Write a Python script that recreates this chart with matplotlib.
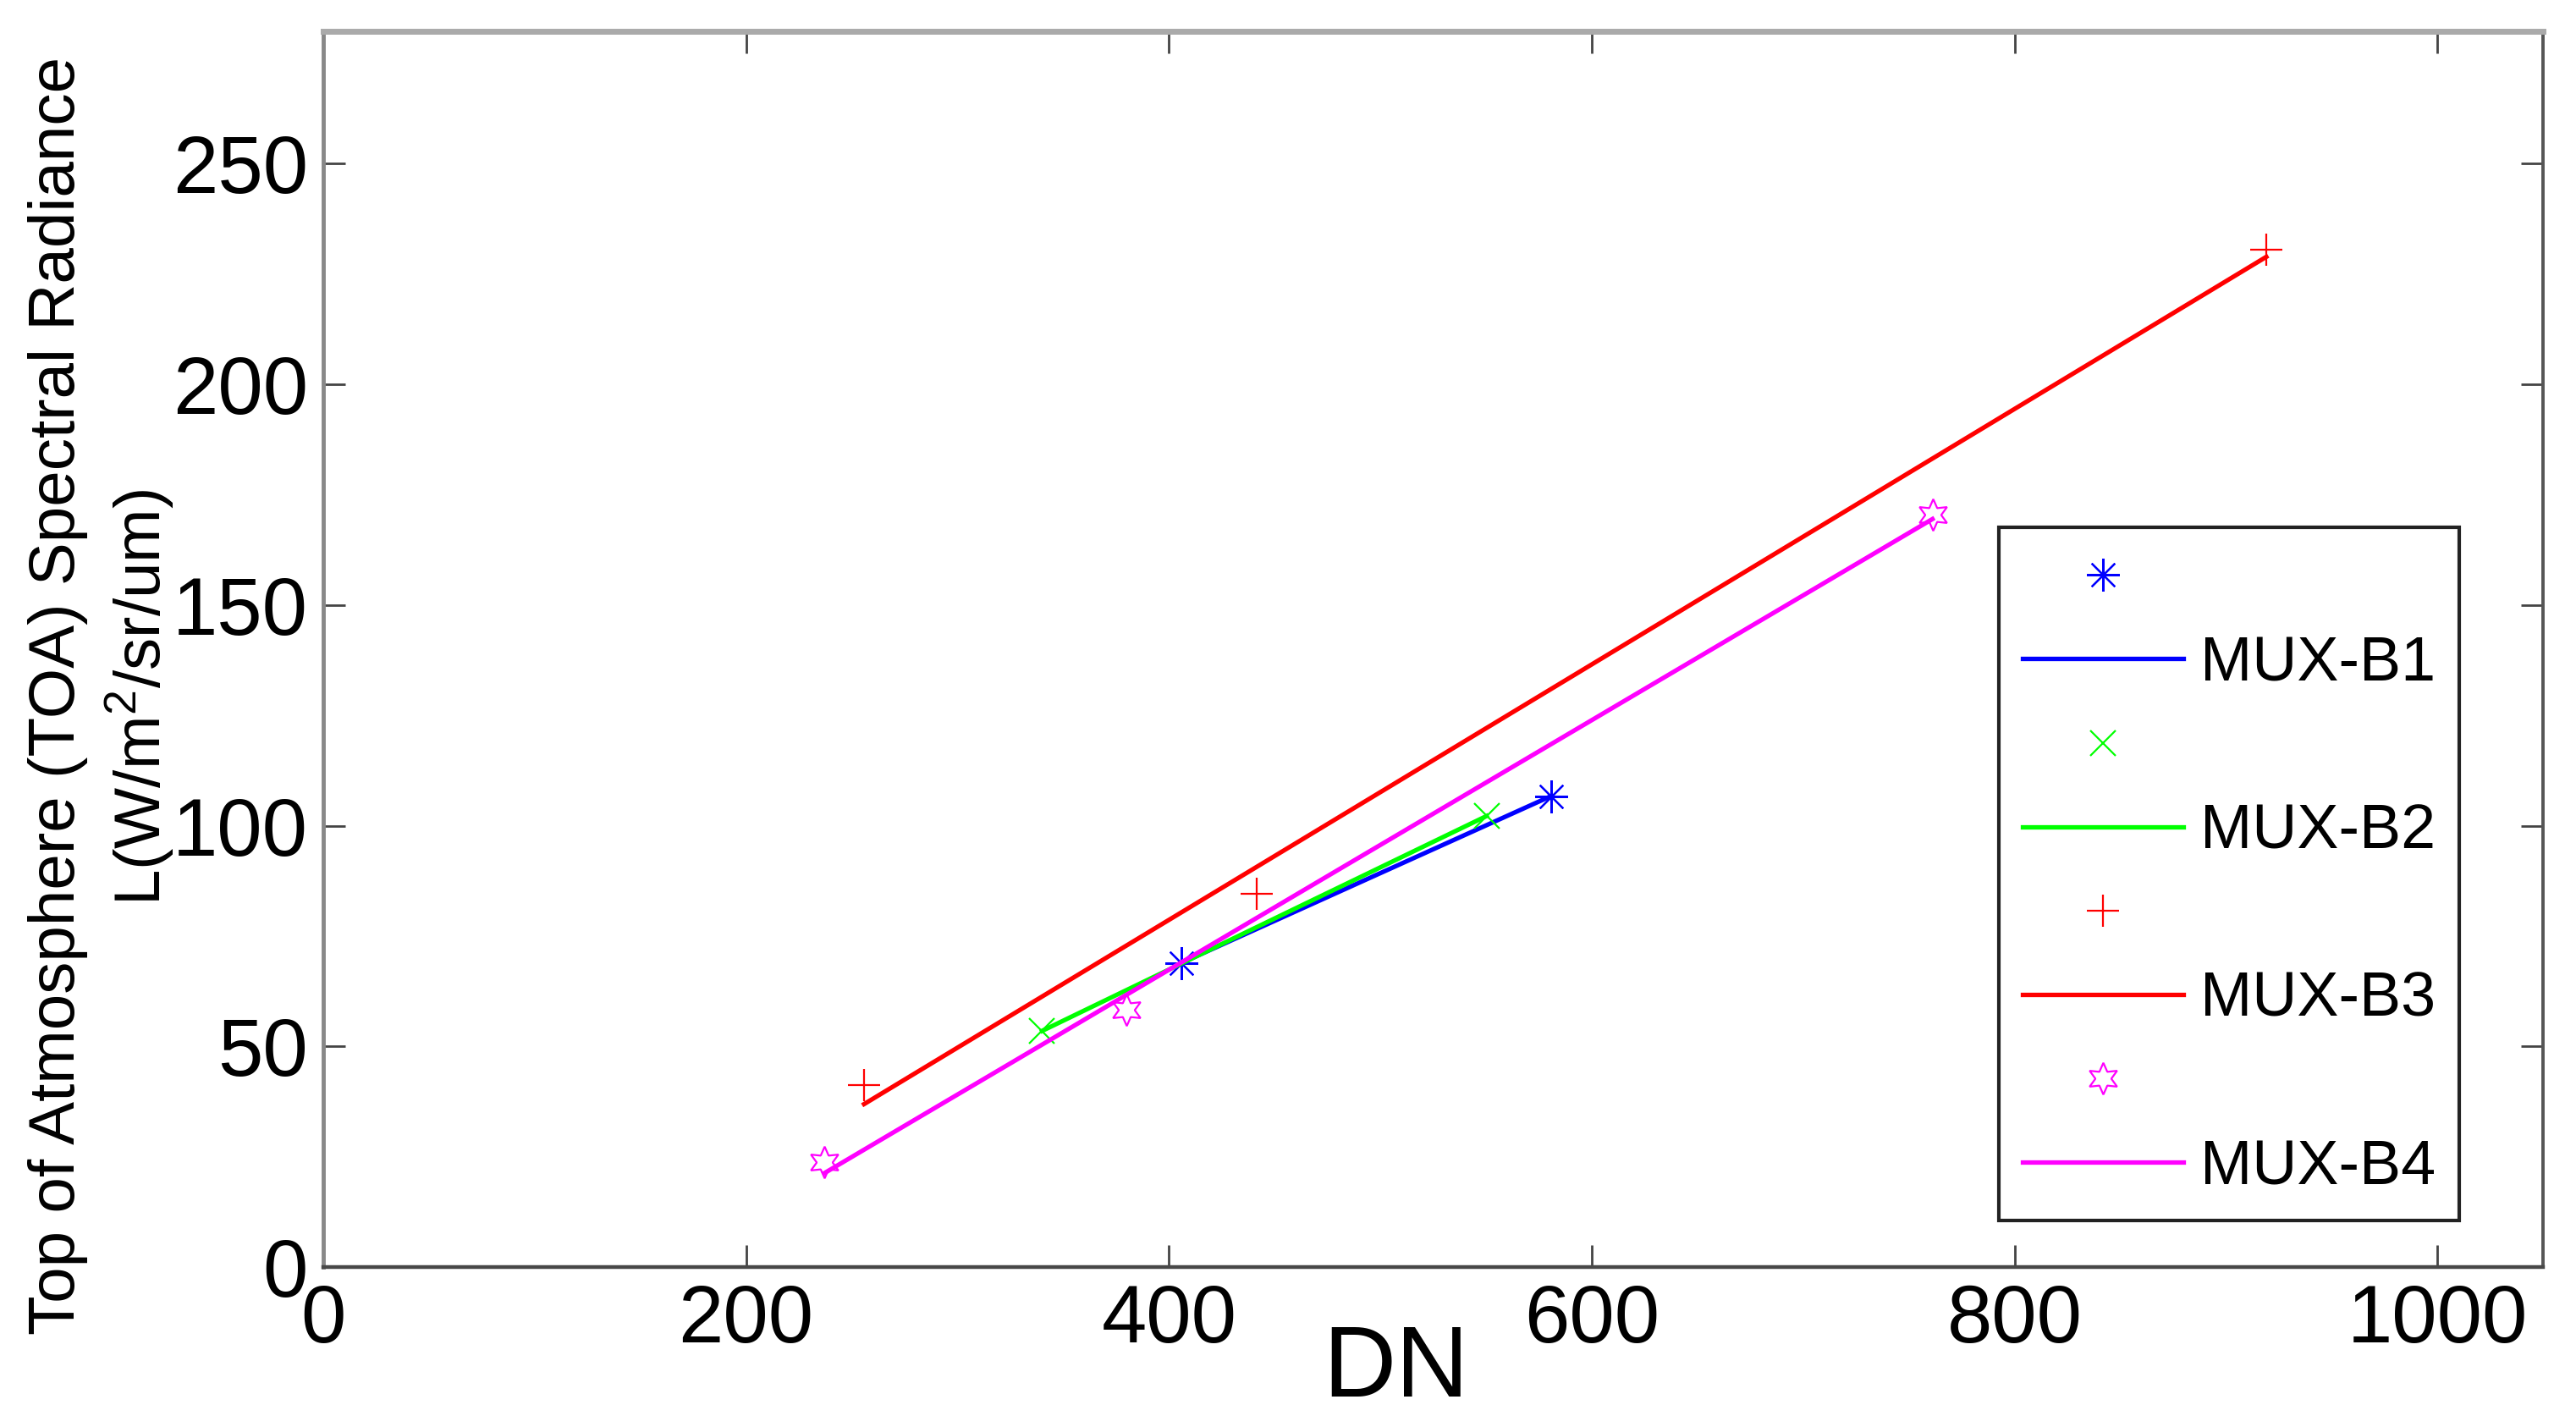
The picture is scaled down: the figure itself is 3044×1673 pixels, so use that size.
import numpy as np
import matplotlib
matplotlib.use("Agg")
import matplotlib.pyplot as plt
from matplotlib.lines import Line2D

plt.rcParams['font.family'] = ['Liberation Sans', 'DejaVu Sans']
plt.rcParams['mathtext.fontset'] = 'custom'
plt.rcParams['mathtext.rm'] = 'Liberation Sans'
plt.rcParams['mathtext.it'] = 'Liberation Sans:italic'

# DN vs TOA radiance
b1_dn = [405.9, 580.7]
b1_rad = [68.9, 106.7]
b2_dn = [340.0, 550.3]
b2_rad = [53.5, 102.2]
b3_dn = [255.8, 441.6, 919.1]
b3_rad = [41.3, 84.6, 230.6]
b4_dn = [237.0, 379.8, 761.2]
b4_rad = [23.7, 58.3, 170.4]

band_names = ['MUX-B1', 'MUX-B2', 'MUX-B3', 'MUX-B4']
x_ticks = [0, 200, 400, 600, 800, 1000]
y_ticks = [0, 50, 100, 150, 200, 250]

series = [
    (b1_dn, b1_rad, (0, 0, 1), (8, 2, 0), 28),
    (b2_dn, b2_rad, (0, 1, 0), 'x', 21),
    (b3_dn, b3_rad, (1, 0, 0), '+', 28),
    (b4_dn, b4_rad, (1, 0, 1), (6, 1, 0), 27),
]

fig = plt.figure(figsize=(30.44, 16.73), dpi=100)
ax = fig.add_axes([0.1255, 0.1052, 0.9872 - 0.1255, 0.9779 - 0.1052])

handles = []
labels = []
for (dn, rad, col, mk, ms), name in zip(series, band_names):
    dn = np.array(dn)
    rad = np.array(rad)
    # least squares calibration line over the range of the points
    k, b = np.polyfit(dn, rad, 1)
    xs = np.array([dn.min(), dn.max()])
    ax.plot(xs, k * xs + b, color=col, lw=3.8)
    ax.plot(dn, rad, linestyle='none', marker=mk, markersize=ms,
            markeredgecolor=col, markerfacecolor='none', markeredgewidth=1.6)
    handles.append(Line2D([], [], linestyle='none', marker=mk, markersize=ms,
                          markeredgecolor=col, markerfacecolor='none',
                          markeredgewidth=1.6))
    labels.append(' ')
    handles.append(Line2D([], [], color=col, lw=3.8))
    labels.append(name)

ax.set_xlim(0, 1050)
ax.set_ylim(0, 280)
ax.set_xticks(x_ticks)
ax.set_yticks(y_ticks)
ax.tick_params(axis='both', direction='in', length=19, width=2, color='#444444',
               labelsize=69, top=True, right=True)
ax.tick_params(axis='x', pad=14)
ax.tick_params(axis='y', pad=13)

ax.spines['top'].set_color('#aaaaaa')
ax.spines['top'].set_linewidth(5)
ax.spines['left'].set_color('#888888')
ax.spines['left'].set_linewidth(3.5)
ax.spines['right'].set_color('#555555')
ax.spines['right'].set_linewidth(2.8)
ax.spines['bottom'].set_color('#484848')
ax.spines['bottom'].set_linewidth(3.2)

fig.text(0.542, 0.01375, 'DN', fontsize=86, ha='center', va='baseline')
fig.text(0.0289, 0.509, 'Top of Atmosphere (TOA) Spectral Radiance', fontsize=55,
         rotation=90, rotation_mode='anchor', ha='center', va='baseline')
fig.text(0.0624, 0.5075, 'L(W/m$^2$/sr/um)', fontsize=55,
         rotation=90, rotation_mode='anchor', ha='center', va='baseline')

leg = ax.legend(handles, labels, loc='upper left',
                bbox_to_anchor=(2362 / 3044, 1 - 623 / 1673),
                bbox_transform=fig.transFigure, borderaxespad=0,
                fontsize=53, handlelength=2.58, handletextpad=0.27,
                labelspacing=0.41, borderpad=0.38, fancybox=False,
                framealpha=1, edgecolor='#222222')
leg.get_frame().set_linewidth(3)

fig.savefig('out.png', dpi=100)
